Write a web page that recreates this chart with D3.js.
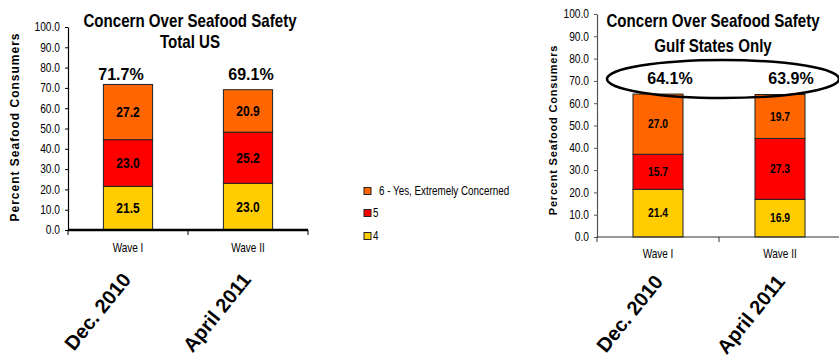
<!DOCTYPE html>
<html>
<head>
<meta charset="utf-8">
<script src="https://cdn.jsdelivr.net/npm/d3@7"></script>
<style>
  html, body { margin: 0; padding: 0; background: #fff; }
  svg { display: block; }
  text { font-family: "Liberation Sans", Arial, sans-serif; }
</style>
</head>
<body>
<svg id="chart" width="839" height="358"></svg>
<script>
// Survey waves and their field dates
const waves = ["Wave I", "Wave II"];
const waveDates = ["Dec. 2010", "April 2011"];

// Concern levels, stacked bottom to top
const levels = ["4", "5", "6"];
const levelNames = ["4", "5", "6 - Yes, Extremely Concerned"];
const levelColors = ["#FFCC00", "#FF0000", "#FF6600"];

// Percent of seafood consumers — Total US
const usLevel4 = [21.5, 23.0];
const usLevel5 = [23.0, 25.2];
const usLevel6 = [27.2, 20.9];
const usTotals = [71.7, 69.1];

// Percent of seafood consumers — Gulf States only
const gulfLevel4 = [21.4, 16.9];
const gulfLevel5 = [15.7, 27.3];
const gulfLevel6 = [27.0, 19.7];
const gulfTotals = [64.1, 63.9];

const yTicks = d3.range(0, 101, 10);

const svg = d3.select("#chart");

// Condensed look: move x/y into a transform and squeeze horizontally
function squeeze(sel, s) {
  sel.each(function () {
    const t = d3.select(this);
    const x = +t.attr("x") || 0, y = +t.attr("y") || 0;
    t.attr("x", 0).attr("y", 0)
      .attr("transform", `translate(${x},${y}) scale(${s},1)`);
  });
}

function buildRows(l4, l5, l6) {
  return waves.map((w, i) => ({ wave: w, "4": l4[i], "5": l5[i], "6": l6[i] }));
}

function drawPanel(opt) {
  const g = svg.append("g");
  const rows = buildRows(opt.l4, opt.l5, opt.l6);
  const stack = d3.stack().keys(levels)(rows);

  const x = d3.scaleBand().domain(waves).range(opt.xRange)
    .paddingInner(0.59).paddingOuter(0.295);
  const y = d3.scaleLinear().domain([0, 100]).range(opt.yRange);

  // Titles
  const titles = g.selectAll("text.title").data([0, 1]).join("text")
    .attr("class", "title")
    .attr("x", opt.titleX).attr("y", i => opt.titleY[i])
    .attr("text-anchor", "middle").attr("font-weight", "bold")
    .attr("font-size", 18)
    .text(i => i === 0 ? "Concern Over Seafood Safety" : opt.subtitle);
  squeeze(titles, 0.84);

  // Y axis
  const yAxis = g.append("g")
    .attr("transform", `translate(${opt.xRange[0]},0)`)
    .call(d3.axisLeft(y).tickValues(yTicks).tickFormat(d3.format(".1f"))
      .tickSizeInner(3).tickSizeOuter(0).tickPadding(5));
  yAxis.select(".domain").attr("stroke", opt.yAxisColor).attr("stroke-width", 1.2);
  yAxis.selectAll(".tick line").attr("stroke", opt.yAxisColor);
  const yLabels = yAxis.selectAll(".tick text")
    .attr("font-size", 12).attr("fill", "#000")
    .attr("font-family", "Liberation Sans, Arial, sans-serif");
  squeeze(yLabels, 0.85);

  // Y axis title
  g.append("text")
    .attr("transform", `translate(${opt.yTitleX},${opt.yTitleY}) rotate(-90)`)
    .attr("text-anchor", "middle").attr("font-weight", "bold")
    .attr("font-size", opt.yTitleSize).attr("letter-spacing", opt.yTitleSpacing)
    .text("Percent Seafood Consumers");

  // Stacked bars
  g.selectAll("g.layer").data(stack).join("g")
    .attr("class", "layer")
    .attr("fill", (d, i) => levelColors[i])
    .selectAll("rect").data(d => d).join("rect")
    .attr("x", d => x(d.data.wave))
    .attr("width", x.bandwidth())
    .attr("y", d => y(d[1]))
    .attr("height", d => y(d[0]) - y(d[1]))
    .attr("stroke", "#222").attr("stroke-width", 1);

  // Segment values
  const vals = g.selectAll("g.vals").data(stack).join("g")
    .attr("class", "vals")
    .selectAll("text").data(d => d).join("text")
    .attr("x", d => x(d.data.wave) + x.bandwidth() / 2)
    .attr("y", d => y((d[0] + d[1]) / 2))
    .attr("dy", "0.36em")
    .attr("text-anchor", "middle").attr("font-weight", "bold")
    .attr("font-size", opt.valSize)
    .text(d => (d[1] - d[0]).toFixed(1));
  squeeze(vals, 0.86);

  // X axis baseline
  const x0 = opt.xRange[0], x1 = opt.xRange[1];
  g.append("line")
    .attr("x1", x0).attr("x2", x1)
    .attr("y1", y(0)).attr("y2", y(0))
    .attr("stroke", opt.xAxisColor).attr("stroke-width", opt.xAxisWidth);
  // Tick marks between categories
  const edges = d3.range(waves.length + 1).map(i => x0 + i * x.step());
  g.selectAll("line.xtick").data(edges).join("line")
    .attr("class", "xtick")
    .attr("x1", d => d).attr("x2", d => d)
    .attr("y1", y(0)).attr("y2", y(0) + 5)
    .attr("stroke", opt.xAxisColor).attr("stroke-width", 1);

  // Category labels
  const xAxis = g.append("g")
    .attr("transform", `translate(0,${y(0)})`)
    .call(d3.axisBottom(x).tickSize(0).tickPadding(opt.waveLabelPad));
  xAxis.select(".domain").remove();
  const xLabels = xAxis.selectAll(".tick text")
    .attr("font-size", 12.5).attr("fill", "#000")
    .attr("font-family", "Liberation Sans, Arial, sans-serif");
  squeeze(xLabels, 0.8);

  // Field dates, rotated
  g.selectAll("text.date").data(waves).join("text")
    .attr("class", "date")
    .attr("transform", d => `translate(${x(d) + x.bandwidth() / 2 + opt.dateDx},${opt.dateY}) rotate(-51)`)
    .attr("text-anchor", "end").attr("font-weight", "bold")
    .attr("font-size", 20)
    .text((d, i) => waveDates[i]);

  // Totals above bars
  g.selectAll("text.total").data(opt.totals).join("text")
    .attr("class", "total")
    .attr("x", (d, i) => x(waves[i]) + x.bandwidth() / 2 + opt.totalDx[i])
    .attr("y", opt.totalY)
    .attr("text-anchor", "middle").attr("font-weight", "bold")
    .attr("font-size", 16)
    .text(d => d.toFixed(1) + "%");

  return { x, y, g };
}

drawPanel({
  l4: usLevel4, l5: usLevel5, l6: usLevel6, totals: usTotals,
  subtitle: "Total US",
  xRange: [68, 308], yRange: [230, 27],
  titleX: 190, titleY: [27, 48],
  yAxisColor: "#000", xAxisColor: "#000", xAxisWidth: 2.5,
  yTitleX: 19, yTitleY: 127, yTitleSize: 12, yTitleSpacing: 1,
  valSize: 14, waveLabelPad: 13,
  dateDx: 4, dateY: 280,
  totalY: 80, totalDx: [-7, 3]
});

const right = drawPanel({
  l4: gulfLevel4, l5: gulfLevel5, l6: gulfLevel6, totals: gulfTotals,
  subtitle: "Gulf States Only",
  xRange: [597, 841], yRange: [237, 14],
  titleX: 713, titleY: [27, 52],
  yAxisColor: "#555", xAxisColor: "#333", xAxisWidth: 1.2,
  yTitleX: 557, yTitleY: 130, yTitleSize: 11, yTitleSpacing: 0.8,
  valSize: 12, waveLabelPad: 12,
  dateDx: 6, dateY: 282,
  totalY: 84, totalDx: [12, 11]
});

// Ellipse highlighting the Gulf totals
right.g.append("ellipse")
  .attr("cx", 723).attr("cy", 79).attr("rx", 116).attr("ry", 19)
  .attr("fill", "none").attr("stroke", "#000").attr("stroke-width", 2.5);

// Legend
const legend = svg.append("g");
const legendOrder = [2, 1, 0];
const legendY = [191, 213, 236];
legendOrder.forEach((k, j) => {
  legend.append("rect")
    .attr("x", 364).attr("y", legendY[j] - 3.5)
    .attr("width", 7).attr("height", 7)
    .attr("fill", levelColors[k]).attr("stroke", "#222").attr("stroke-width", 1);
  const t = legend.append("text")
    .attr("x", k === 2 ? 379 : 373).attr("y", legendY[j])
    .attr("dy", "0.35em").attr("font-size", 12).attr("fill", "#000")
    .text(levelNames[k]);
  squeeze(t, 0.82);
});
</script>
</body>
</html>
